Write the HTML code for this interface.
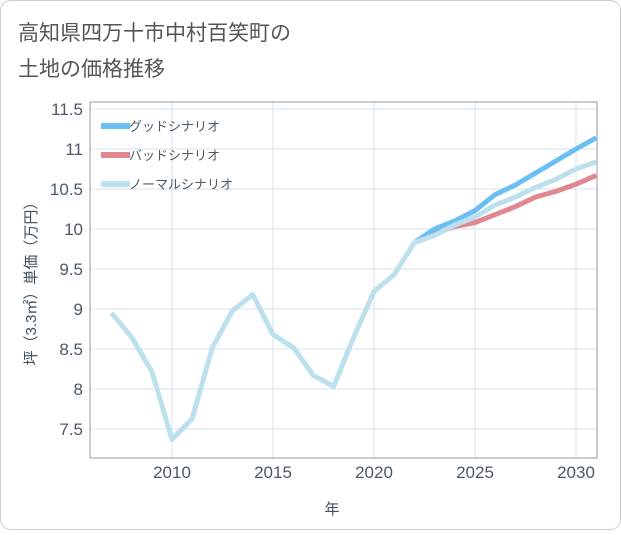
<!DOCTYPE html>
<html><head><meta charset="utf-8"><style>
body{margin:0;background:#fff;}
#wrap{position:relative;width:621px;height:530px;}
svg text{font-family:"Liberation Sans","Noto Sans CJK JP",sans-serif;}
</style></head><body>
<div id="wrap">
<svg id="chart" width="621" height="530">
<rect x="0.5" y="0.5" width="620" height="529" rx="10" fill="#fff" stroke="#ccc"/>
<text x="18" y="40" font-size="21" fill="#555">高知県四万十市中村百笑町の</text>
<text x="18" y="76" font-size="21" fill="#555">土地の価格推移</text>
<g id="grid"></g>
<rect x="90" y="102" width="507" height="356" fill="none" stroke="#999"/>
<g id="marks"></g>
<g id="legend"></g>
<text x="332" y="514" font-size="15" fill="#3d4f60" text-anchor="middle">年</text>
<text transform="translate(36,280) rotate(-90)" font-size="15" fill="#3d4f60" text-anchor="middle">坪（3.3㎡）単価（万円）</text>
</svg></div>
<script>
const years=[2007,2008,2009,2010,2011,2012,2013,2014,2015,2016,2017,2018,2019,2020,2021,2022,2023,2024,2025,2026,2027,2028,2029,2030,2031];
const normal=[8.95,8.65,8.22,7.37,7.63,8.52,8.98,9.18,8.68,8.52,8.17,8.03,8.65,9.22,9.43,9.83,9.92,10.05,10.15,10.3,10.4,10.52,10.62,10.75,10.84];
const goodYears=[2022,2023,2024,2025,2026,2027,2028,2029,2030,2031];
const good=[9.83,10.0,10.1,10.23,10.43,10.55,10.7,10.85,11.0,11.14];
const bad=[9.83,9.95,10.03,10.08,10.18,10.28,10.4,10.47,10.56,10.67];
const yTicks=[7.5,8,8.5,9,9.5,10,10.5,11,11.5];
const xTicks=[2010,2015,2020,2025,2030];
const NS='http://www.w3.org/2000/svg';
const X=y=>172+(y-2010)*20.2;
const Y=v=>109+(11.5-v)*80;
const grid=document.getElementById('grid'),marks=document.getElementById('marks'),legend=document.getElementById('legend');
function mk(t,a,p){const e=document.createElementNS(NS,t);for(const k in a)e.setAttribute(k,a[k]);p.appendChild(e);return e;}
yTicks.forEach(v=>{
const l=mk('line',{x1:90,x2:597,y1:Y(v),y2:Y(v),stroke:'#d5e3ec','stroke-width':1},grid);


const t=mk('text',{x:83,y:Y(v)+6,'font-size':17,fill:'#4a5a6a','text-anchor':'end'},grid);t.textContent=String(v);


});
xTicks.forEach(v=>{
const l=mk('line',{x1:X(v),x2:X(v),y1:102,y2:458,stroke:'#d5e3ec','stroke-width':1},grid);


const t=mk('text',{x:X(v),y:478,'font-size':17,fill:'#4a5a6a','text-anchor':'middle'},grid);t.textContent=String(v);


});
function line(xs,vs,c,n){
const p=mk('polyline',{points:xs.map((y,i)=>X(y)+','+Y(vs[i])).join(' '),fill:'none',stroke:c,'stroke-width':5,'stroke-linejoin':'round'},marks);


}
line(goodYears,bad,'#e0878f','bad-scenario-line');
line(goodYears,good,'#6bbff2','good-scenario-line');
line(years,normal,'#bde0ee','normal-scenario-line');
[['グッドシナリオ','#6bbff2'],['バッドシナリオ','#e0878f'],['ノーマルシナリオ','#bde0ee']].forEach((d,i)=>{
const y=126+i*29;
const r=mk('rect',{x:101,y:y-3,width:29,height:6,fill:d[1]},legend);


const t=mk('text',{x:129,y:y+5,'font-size':13,fill:'#4a5a6a'},legend);t.textContent=d[0];


});
</script>
</body></html>
